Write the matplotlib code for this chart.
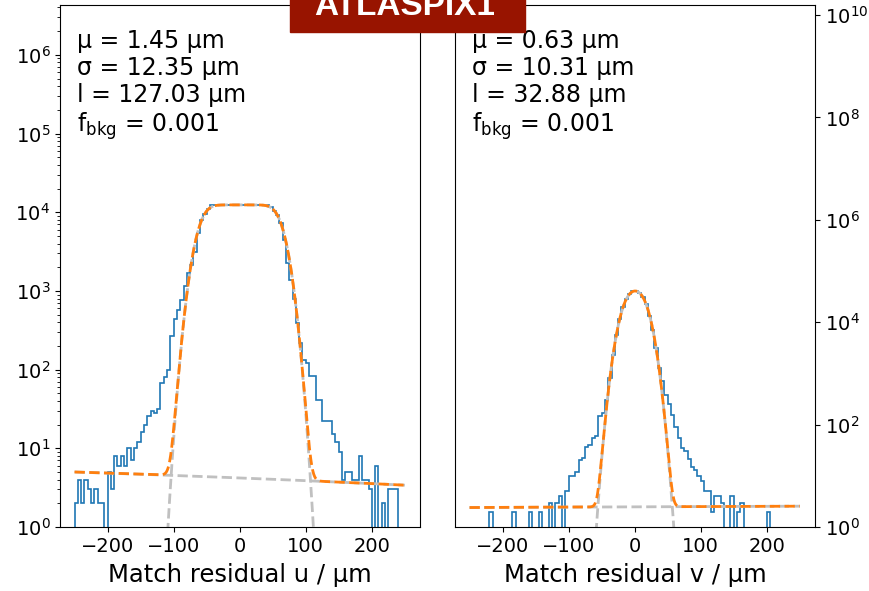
import math
import numpy as np
import matplotlib.pyplot as plt
from matplotlib.patches import Rectangle

# 5 um bins from -250 to 250 um
edges = np.arange(-250, 255, 5)

# residual counts per bin, u direction
counts_u = [2, 4, 2, 4, 3, 2, 3, 2, 2, 0,
            5, 3, 8, 6, 8, 6, 10, 7, 10, 12,
            16, 20, 26, 30, 28, 32, 68, 80, 100, 264,
            440, 580, 776, 1150, 1690, 2150, 3150, 5400, 7900, 9500,
            11100, 12200, 12300, 12450, 12400, 12500, 12350, 12400, 12450, 12300,
            12400, 12500, 12350, 12400, 12300, 12450, 12400, 12350, 12200, 11600,
            10500, 9300, 7300, 4500, 2260, 1390, 780, 390, 220, 134,
            121, 82, 82, 41, 41, 22, 22, 22, 15, 12,
            9, 4, 5, 5, 4, 4, 8, 4, 4, 3,
            0, 6, 0, 2, 0, 3, 3, 3, 0, 0]

# residual counts per bin, v direction
counts_v = [0, 0, 0, 0, 0, 0, 2, 0, 0, 0,
            0, 0, 0, 2, 0, 0, 0, 0, 2, 0,
            0, 2, 0, 0, 3, 0, 3, 4, 0, 5,
            10, 10, 12, 20, 22, 37, 40, 55, 60, 150,
            170, 300, 820, 2300, 5600, 11500, 19500, 28000, 35500, 40000,
            40500, 37000, 30500, 22500, 13500, 7200, 3200, 1300, 700, 385,
            250, 156, 91, 55, 35, 30, 21, 15, 13, 10,
            8, 5, 5, 2, 4, 4, 3, 0, 0, 4,
            0, 2, 3, 0, 0, 0, 0, 0, 0, 0,
            2, 0, 0, 0, 0, 0, 0, 0, 0, 0]

# fit results: box (length l) smeared by a gaussian + linear background
mu_u, sigma_u, l_u, fbkg_u = 1.45, 12.35, 127.03, 0.001
mu_v, sigma_v, l_v, fbkg_v = 0.63, 10.31, 32.88, 0.001
amp_u, amp_v = 1.24e4, 4.58e4
bkg_u = (5.0, 3.4)
bkg_v = (2.4, 2.55)

erf = np.vectorize(math.erf)


def box_gauss(x, amp, mu, sigma, length):
    s = sigma * np.sqrt(2)
    return amp * 0.5 * (erf((x - mu + length / 2) / s) - erf((x - mu - length / 2) / s))


def linear_bkg(x, b_left, b_right):
    return b_left + (b_right - b_left) * (x - x[0]) / (x[-1] - x[0])


x_fit = np.linspace(-250, 250, 1001)

fig = plt.figure(figsize=(8.7, 5.91), dpi=100)
ax_u = fig.add_axes([0.069, 0.1083, 0.4138, 0.8832])
ax_v = fig.add_axes([0.523, 0.1083, 0.4138, 0.8832])

panels = [(ax_u, counts_u, amp_u, mu_u, sigma_u, l_u, fbkg_u, bkg_u, 'u', 4.3e6),
          (ax_v, counts_v, amp_v, mu_v, sigma_v, l_v, fbkg_v, bkg_v, 'v', 1.57e10)]

for ax, counts, amp, mu, sigma, length, fbkg, bkg, coord, ytop in panels:
    sig = box_gauss(x_fit, amp, mu, sigma, length)
    bg = linear_bkg(x_fit, *bkg)
    ax.stairs(counts, edges, color='C0', lw=1.2)
    ax.plot(x_fit, sig, '--', color='silver', lw=2)
    ax.plot(x_fit, bg, '--', color='silver', lw=2)
    ax.plot(x_fit, sig + bg, '--', color='C1', lw=2)
    ax.set_yscale('log')
    ax.set_xlim(-272, 273)
    ax.set_ylim(1, ytop)
    ax.set_xlabel('Match residual %s / μm' % coord, fontsize=17.5, labelpad=5)
    ax.tick_params(labelsize=14)
    label = '\n'.join(['μ = %.2f μm' % mu, 'σ = %.2f μm' % sigma,
                       'l = %.2f μm' % length, r'f$_{\rm bkg}$ = %.3f' % fbkg])
    ax.text(0.047, 0.955, label, transform=ax.transAxes, va='top', ha='left',
            fontsize=17, linespacing=1.17)

ax_v.yaxis.tick_right()

# sensor name banner
fig.patches.append(Rectangle((290 / 870, 1 - 32 / 591), 235 / 870, 0.2,
                             transform=fig.transFigure, color='#981400', zorder=5))
fig.text(405 / 870, 1 - 15 / 591, 'ATLASPIX1', ha='center', va='baseline',
         color='white', fontsize=24, fontweight='bold', family='Liberation Sans', zorder=6)

fig.savefig('out.png')
